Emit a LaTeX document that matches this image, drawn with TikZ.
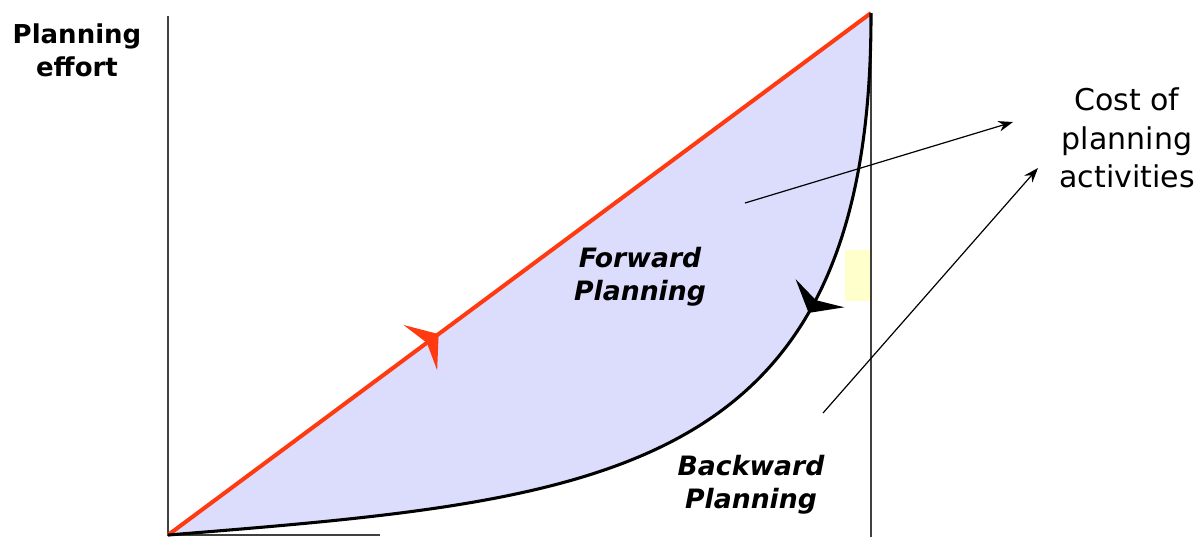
\documentclass[tikz,border=0pt]{standalone}
\usepackage{fontspec}
\setmainfont{DejaVu Sans}
\usetikzlibrary{arrows.meta, decorations.markings}
\definecolor{areafill}{HTML}{DCDCFC}
\definecolor{fwdred}{HTML}{FF3A10}
\definecolor{paleyellow}{HTML}{FFFFCC}

\begin{document}
\begin{tikzpicture}[
  x=0.75pt, y=-0.75pt,
  axis/.style={draw=black!75, line width=1.4pt},
  fwd/.style={draw=fwdred, line width=3pt},
  bwd/.style={draw=black, line width=2.3pt},
  planlbl/.style={
    align=center,
    inner sep=0pt,
    font=\bfseries\itshape\fontsize{20}{25}\selectfont
  },
  bigtip/.tip={Stealth[length=17pt, width=42pt, inset=6pt]},
  pointer/.style={-{Stealth[length=11pt, width=8pt]}, line width=0.9pt}
]
  \useasboundingbox (0,0) rectangle (1203,537);

  % Coordinates
  \coordinate (origin) at (168,535);
  \coordinate (goal)   at (871,13);
  \coordinate (areapt) at (745,203);
  \coordinate (gappt)  at (823,413);
  \coordinate (costtop) at (1013,122);
  \coordinate (costbot) at (1038,168);

  % Shaded area and patch
  \fill[areafill] (origin) -- (goal) .. controls (872,480) and (600,500) .. (origin);
  \fill[paleyellow] (845,250) rectangle (872,301);

  % Axes
  \draw[axis] (168,16) -- (origin) -- (380,535);
  \draw[axis] (871,15) -- (871,537);

  % Curves
  \draw[fwd, postaction=decorate,
    decoration={markings, mark=at position 0.385 with {\arrow[fwdred]{bigtip}}}]
    (origin) -- (goal);
  \draw[bwd, postaction=decorate,
    decoration={markings, mark=at position 0.305 with {\arrow{bigtip}}}]
    (goal) .. controls (872,480) and (600,500) .. (origin);

  % Nodes
  \node (ylabel) [align=center, inner sep=0pt, font=\bfseries\fontsize{19.5}{25}\selectfont]
    at (77,50) {Planning\\effort};
  \node (fwdlbl) [planlbl] at (640,277) {Forward\\Planning};
  \node (bwdlbl) [planlbl] at (751,485) {Backward\\Planning};
  \node (cost) [align=center, inner sep=0pt, font=\fontsize{22.5}{29}\selectfont]
    at (1127,138) {Cost of\\planning\\activities};

  % Arrows
  \draw[pointer] (areapt) -- (costtop);
  \draw[pointer] (gappt) -- (costbot);

\end{tikzpicture}
\end{document}
